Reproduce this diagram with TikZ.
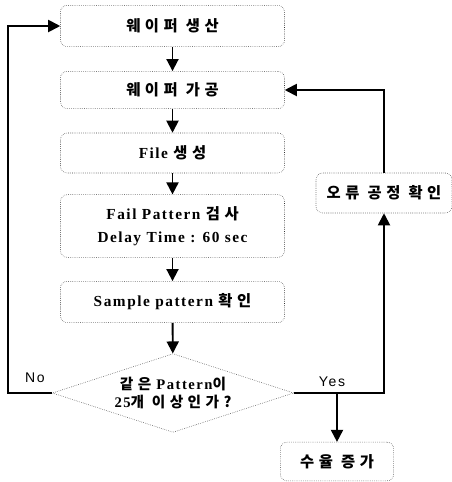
\documentclass[tikz,border=0pt]{standalone}
\usepackage{fontspec}
\setmainfont[LetterSpace=10]{Liberation Serif}
\newfontfamily\kr[LetterSpace=30]{Noto Sans CJK KR}
\newfontfamily\lab[LetterSpace=12]{Liberation Sans}
\usetikzlibrary{shapes.geometric,arrows.meta}

\begin{document}
\begin{tikzpicture}[
    box/.style={draw=black!80,densely dotted,rounded corners=5pt,minimum width=168pt,minimum height=30pt,inner sep=2pt,align=center,font=\bfseries\fontsize{11.5}{13}\selectfont},
    dec/.style={diamond,aspect=3,draw=black!80,densely dotted,minimum width=181pt,minimum height=59pt,inner sep=0pt,align=center,font=\bfseries\fontsize{11}{12}\selectfont},
    flow/.style={line width=1.4pt,-{Triangle[length=9pt,width=9pt]}},
    yn/.style={font=\lab\fontsize{10.5}{12}\selectfont},
    x=0.75pt,y=-0.75pt
]
\useasboundingbox (0,0) rectangle (452,482);

% main column
\node[box,minimum height=31pt] (gen)    at (172.5,26)  {\kr 웨이퍼 생산};
\node[box,minimum height=28pt] (proc)   at (172.5,90)  {\kr 웨이퍼 가공};
\node[box]                     (file)   at (172.5,153) {File {\kr 생성}};
\node[box,minimum height=47pt] (fail)   at (172.5,226) {Fail Pattern {\kr 검사}\\[4pt] Delay Time : 60 sec};
\node[box,minimum height=31pt] (sample) at (172.5,302) {Sample pattern {\kr 확인}};
\node[dec]                     (same)   at (173,393)   {{\kr 같은} Pattern{\kr 이}\\[1pt] 25{\kr 개 이상인가?}};

% side boxes
\node[box,minimum width=102pt] (err)   at (384,193)   {\kr 오류 공정 확인};
\node[box,minimum width=85pt,minimum height=29pt] (yield) at (337,461.5) {\kr 수율 증가};

% corners of the loops
\coordinate (lft) at (8,393);
\coordinate (ys)  at (337,393);

% flow
\draw[flow] (gen) -- (proc);
\draw[flow] (proc) -- (file);
\draw[flow] (file) -- (fail);
\draw[flow] (fail) -- (sample);
\draw[flow] (sample) -- (same);

% no : back to the start
\draw[flow] (same.west) -- (lft) |- (gen.west);
\node[yn] (no) at (35,378) {No};

% yes : check the process, then back to processing
\draw[flow] (same.east) -| (err.south);
\draw[flow] (err.north) |- (proc.east);
\draw[flow] (ys) -- (yield.north);
\node[yn] (yes) at (332,382) {Yes};

\end{tikzpicture}
\end{document}
